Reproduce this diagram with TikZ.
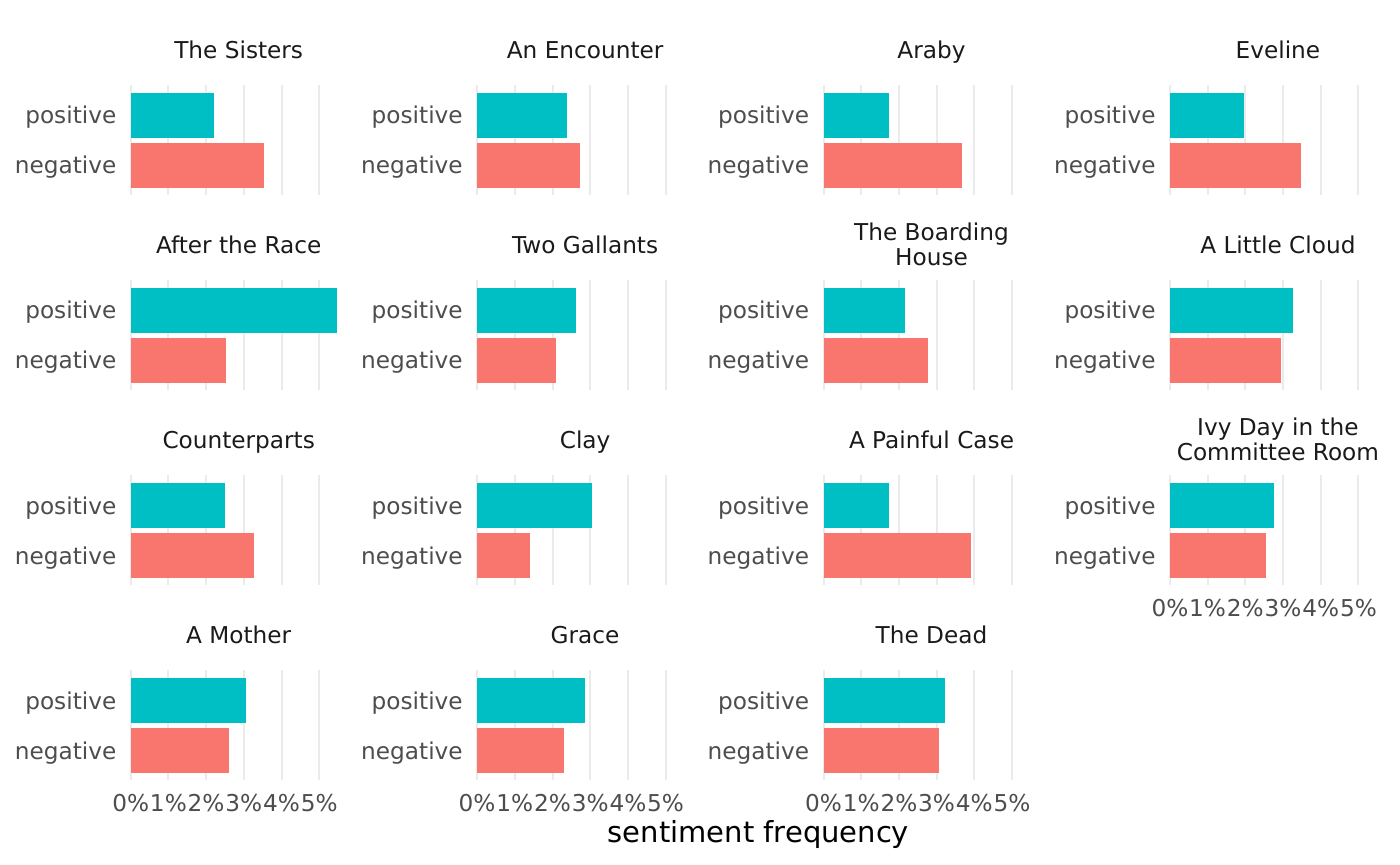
\documentclass[tikz,border=0pt]{standalone}
\usepackage{fontspec}
\setmainfont{DejaVu Sans}
\definecolor{posbar}{HTML}{00BFC4}
\definecolor{negbar}{HTML}{F8766D}
\definecolor{gridgray}{HTML}{EBEBEB}
\definecolor{striptext}{HTML}{1A1A1A}
\definecolor{axistext}{HTML}{4D4D4D}
\tikzset{
  striplabel/.style={anchor=base, align=center, text=striptext, inner sep=0pt,
    font=\fontsize{11.6}{12.5}\selectfont},
  catlabel/.style={anchor=base east, text=axistext, inner sep=0pt,
    font=\fontsize{11.6}{12.5}\selectfont},
  ticklabel/.style={anchor=base, text=axistext, inner sep=0pt,
    font=\fontsize{11.6}{12.5}\selectfont},
  gridline/.style={draw=gridgray, line width=1pt},
}
\begin{document}
\begin{tikzpicture}[x=0.5pt, y=-0.5pt]
        \useasboundingbox (0,0) rectangle (1400,865);
        %% Panels: number/column/row/title/title shift/positive/negative/axis
        \foreach \i/\col/\row/\ttl/\tsh/\pv/\nv/\ax in {
            1/0/0/The Sisters/0/2.21/3.54/0,
            2/1/0/An Encounter/0/2.38/2.72/0,
            3/2/0/Araby/0/1.74/3.67/0,
            4/3/0/Eveline/0/1.96/3.48/0,
            5/0/1/After the Race/0/5.46/2.54/0,
            6/1/1/Two Gallants/0/2.63/2.10/0,
            7/2/1/{The Boarding\\House}/12.5/2.17/2.78/0,
            8/3/1/A Little Cloud/0/3.27/2.94/0,
            9/0/2/Counterparts/0/2.51/3.28/0,
            10/1/2/Clay/0/3.06/1.39/0,
            11/2/2/A Painful Case/0/1.74/3.92/0,
            12/3/2/{Ivy Day in the\\Committee Room}/12.5/2.77/2.54/1,
            13/0/3/A Mother/0/3.06/2.61/1,
            14/1/3/Grace/0/2.86/2.30/1,
            15/2/3/The Dead/0/3.23/3.07/1}{
            \pgfmathsetmacro{\ox}{130.7+346.4*\col}
            \pgfmathsetmacro{\oy}{85.3+195*\row}
            \coordinate (o-\i) at (\ox,\oy);
            %% Grid
            \foreach \k in {0,...,5}
                \draw[gridline] (\ox+37.7*\k,\oy) -- ++(0,110);
            %% Bars
            \fill[posbar] (\ox,\oy+7.5) rectangle ++(37.7*\pv,45);
            \fill[negbar] (\ox,\oy+57.5) rectangle ++(37.7*\nv,45);
            \node[catlabel] (pos-\i) at (\ox-14,\oy+38.7) {positive};
            \node[catlabel] (neg-\i) at (\ox-14,\oy+88.7) {negative};
            %% Title
            \node[striplabel] (title-\i) at (\ox+108,\oy-27+\tsh) {\ttl};
            %% Axis
            \ifnum\ax=1
                \foreach \k in {0,...,5}
                    \node[ticklabel] (tick-\i-\k) at (\ox+37.7*\k,\oy+140.7) {\k\%};
            \fi
        }
        \node[anchor=base, inner sep=0pt, font=\fontsize{14.5}{16}\selectfont] (xtitle) at (758.5,842.3) {sentiment frequency};
    \end{tikzpicture}
\end{document}
